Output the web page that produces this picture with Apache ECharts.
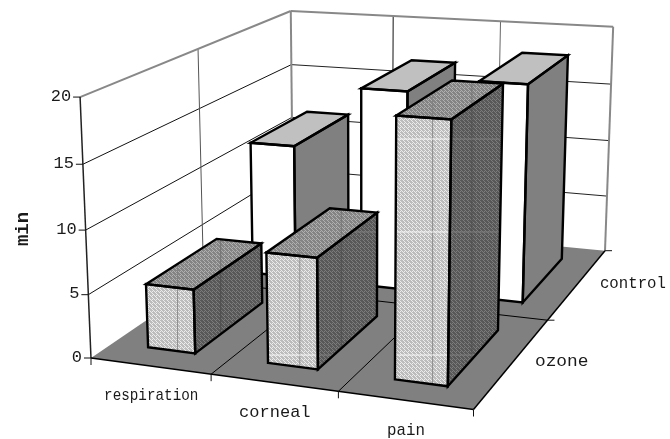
<!DOCTYPE html>
<html><head><meta charset="utf-8">
<style>html,body{margin:0;padding:0;background:#fff}#c{width:670px;height:439px}</style>
<script src="https://cdn.jsdelivr.net/npm/echarts@6/dist/echarts.min.js"></script>
</head><body><div id="c"></div>
<script>
// ---- data ----
var categories = ['respiration', 'corneal', 'pain'];
var depths = ['ozone', 'control'];
var yTicks = [0, 5, 10, 15, 20];
var ozoneValues = [5.05, 8.55, 19.45];
var controlValues = [11.5, 16.8, 18.0];
var axisTitle = 'min';

// ---- camera calibration (unit cube -> screen) ----
var FL = [91, 358], FR = [473.5, 409.5], BR = [605, 250.7], BL = [293, 220.5];
var TFL = [80, 97], TBL = [291, 9], TBR = [613, 29];
var barDepth = [0.09, 0.41], barWidthFrac = 0.4;

function homography(p0, p1, p2, p3) {
  var dx1 = p1[0] - p2[0], dx2 = p3[0] - p2[0], sx = p0[0] - p1[0] + p2[0] - p3[0];
  var dy1 = p1[1] - p2[1], dy2 = p3[1] - p2[1], sy = p0[1] - p1[1] + p2[1] - p3[1];
  var d = dx1 * dy2 - dx2 * dy1;
  var g = (sx * dy2 - dx2 * sy) / d, h = (dx1 * sy - sx * dy1) / d;
  return [[p1[0] - p0[0] + g * p1[0], p3[0] - p0[0] + h * p3[0], p0[0]],
          [p1[1] - p0[1] + g * p1[1], p3[1] - p0[1] + h * p3[1], p0[1]],
          [g, h, 1]];
}
var H = homography(FL, FR, BR, BL);
function solve3(M, y) {
  var A = M.map(function (r, i) { return r.concat([y[i]]); });
  for (var i = 0; i < 3; i++) {
    var piv = i;
    for (var k = i + 1; k < 3; k++) if (Math.abs(A[k][i]) > Math.abs(A[piv][i])) piv = k;
    var tmp = A[i]; A[i] = A[piv]; A[piv] = tmp;
    for (k = 0; k < 3; k++) if (k !== i) {
      var f = A[k][i] / A[i][i];
      for (var j = i; j < 4; j++) A[k][j] -= f * A[i][j];
    }
  }
  return [A[0][3] / A[0][0], A[1][3] / A[1][1], A[2][3] / A[2][2]];
}
// vertical column of the camera, least squares over the three visible top corners
var colP = (function () {
  var targets = [[0, 0, TFL], [0, 1, TBL], [1, 1, TBR]];
  var N = [[0,0,0],[0,0,0],[0,0,0]], R = [0,0,0];
  function add(row, rhs) {
    for (var i = 0; i < 3; i++) { R[i] += row[i] * rhs; for (var j = 0; j < 3; j++) N[i][j] += row[i] * row[j]; }
  }
  targets.forEach(function (s) {
    var b = [0,1,2].map(function (i) { return H[i][0] * s[0] + H[i][1] * s[1] + H[i][2]; });
    var T = s[2];
    add([1, 0, -T[0]], T[0] * b[2] - b[0]);
    add([0, 1, -T[1]], T[1] * b[2] - b[1]);
  });
  return solve3(N, R);
})();
function project(u, v, t) {
  var x = H[0][0] * u + H[0][1] * v + colP[0] * t + H[0][2];
  var y = H[1][0] * u + H[1][1] * v + colP[1] * t + H[1][2];
  var w = H[2][0] * u + H[2][1] * v + colP[2] * t + H[2][2];
  return [x / w, y / w];
}

// ---- hatched fills ----
function hatch(a, b) {
  var c = document.createElement('canvas'); c.width = c.height = 4;
  var g = c.getContext('2d');
  g.fillStyle = a; g.fillRect(0, 0, 4, 4);
  g.fillStyle = b;
  for (var i = 0; i < 4; i++) { g.fillRect(i, i, 2, 1); g.fillRect((i + 2) % 4, i, 1, 1); }
  return { image: c, repeat: 'repeat' };
}
var plainStyle = { front: '#ffffff', top: '#c0c0c0', side: '#808080' };
var hatchStyle = { front: hatch('#ececec', '#bcbcbc'), top: hatch('#b0b0b0', '#848484'), side: hatch('#7c7c7c', '#585858') };
var SEAM_Y = [139, 232, 355];

var FONT = '"Liberation Mono", monospace';
function line(a, b, color, width) {
  return { type: 'line', shape: { x1: a[0], y1: a[1], x2: b[0], y2: b[1] }, style: { stroke: color, lineWidth: width, lineCap: 'butt' }, silent: true };
}
function poly(pts, fill, stroke, width) {
  return { type: 'polygon', shape: { points: pts }, style: { fill: fill || 'none', stroke: stroke || 'none', lineWidth: width || 0, lineJoin: 'miter' }, silent: true };
}
function text(str, x, y, size, align, extra) {
  var e = { type: 'text', x: x, y: y, silent: true,
    style: { text: str, fill: '#1a1a1a', font: (extra && extra.bold ? 'bold ' : '') + size + 'px ' + FONT, align: align, verticalAlign: 'middle' } };
  if (extra && extra.rotation) e.rotation = extra.rotation;
  if (extra && extra.scaleX) e.scaleX = extra.scaleX;
  return e;
}
function clipV(pts, x) {
  var ys = [];
  for (var i = 0; i < pts.length; i++) {
    var a = pts[i], b = pts[(i + 1) % pts.length];
    if ((a[0] - x) * (b[0] - x) <= 0 && a[0] !== b[0]) ys.push(a[1] + (b[1] - a[1]) * (x - a[0]) / (b[0] - a[0]));
  }
  return ys.length > 1 ? [Math.min.apply(null, ys), Math.max.apply(null, ys)] : null;
}
function clipH(pts, y) {
  var xs = [];
  for (var i = 0; i < pts.length; i++) {
    var a = pts[i], b = pts[(i + 1) % pts.length];
    if ((a[1] - y) * (b[1] - y) <= 0 && a[1] !== b[1]) xs.push(a[0] + (b[0] - a[0]) * (y - a[1]) / (b[1] - a[1]));
  }
  return xs.length > 1 ? [Math.min.apply(null, xs), Math.max.apply(null, xs)] : null;
}

function normalise(api, params, catPos, value) {
  var cs = params.coordSys;
  var p = api.coord([catPos, value]);
  return [(p[0] - cs.x) / cs.width, (cs.y + cs.height - p[1]) / cs.height];
}

function renderFrame(params, api) {
  var kids = [];
  var tOf = function (tick) { return normalise(api, params, 0, tick)[1]; };
  var nC = categories.length, nD = depths.length;
  kids.push(poly([project(0,0,0), project(1,0,0), project(1,1,0), project(0,1,0)], '#808080'));
  yTicks.forEach(function (tk) {
    if (tk === 0) return;
    var t = tOf(tk);
    if (t < 1) {
      kids.push(line(project(0,0,t), project(0,1,t), '#111', 1));
      kids.push(line(project(0,1,t), project(1,1,t), '#222', 1));
    }
  });
  for (var d = 1; d < nD; d++) kids.push(line(project(0,d/nD,0), project(0,d/nD,1), '#555', 1));
  for (var c = 1; c < nC; c++) kids.push(line(project(c/nC,1,0), project(c/nC,1,1), c === 1 ? '#111' : '#666', 1));
  kids.push(line(project(0,0,1), project(0,1,1), '#888', 2));
  kids.push(line(project(0,1,1), project(1,1,1), '#888', 2));
  kids.push(line(project(1,1,1), project(1,1,0), '#888', 2));
  kids.push(line(project(0,1,0), project(0,1,1), '#888', 2));
  kids.push(line(project(0,0,0), project(0,0,1), '#222', 1.5));
  for (c = 1; c < nC; c++) kids.push(line(project(c/nC,0,0), project(c/nC,1,0), '#000', 1));
  for (d = 1; d < nD; d++) kids.push(line(project(0,d/nD,0), project(1,d/nD,0), '#000', 1));
  kids.push(line(project(0,0,0), project(1,0,0), '#000', 1.5));
  kids.push(line(project(1,0,0), project(1,1,0), '#000', 1.5));
  yTicks.forEach(function (tk) {
    var p = project(0,0,tOf(tk));
    kids.push(line([p[0]-7, p[1]], p, '#111', 1));
    kids.push(text(String(tk), p[0]-9, p[1]-1, 17, 'right'));
  });
  for (c = 0; c <= nC; c++) { var q = project(c/nC,0,0); kids.push(line(q, [q[0], q[1]+7], '#111', 1)); }
  for (d = 1; d <= nD; d++) { var r = project(1,d/nD,0); kids.push(line(r, [r[0]+7, r[1]], '#111', 1)); }
  categories.forEach(function (name, i) {
    var m = project((i+0.5)/nC,0,0);
    kids.push(text(name, m[0]+1, m[1]+30, 17, 'center', { scaleX: [0.84, 1.0, 0.93][i] }));
  });
  depths.forEach(function (name, i) {
    var m = project(1,(i+0.5)/nD,0);
    kids.push(text(name, m[0]+22, m[1], 17, 'left', { scaleX: [1.05, 0.925][i] }));
  });
  kids.push(text(axisTitle, 23, 229, 19, 'center', { bold: true, rotation: Math.PI/2 }));
  return { type: 'group', children: kids };
}

function renderBars(row) {
  var vMin = barDepth[0] / depths.length * 2 + row / depths.length;
  var vMax = barDepth[1] / depths.length * 2 + row / depths.length;
  var st = row === 0 ? hatchStyle : plainStyle;
  return function (params, api) {
    var n = normalise(api, params, api.value(0), api.value(1));
    var u = n[0], t = n[1];
    var half = barWidthFrac / categories.length / 2;
    var u0 = u - half, u1 = u + half;
    var a = project(u0,vMin,0), b = project(u1,vMin,0), c = project(u1,vMax,0);
    var a2 = project(u0,vMin,t), b2 = project(u1,vMin,t), c2 = project(u1,vMax,t), d2 = project(u0,vMax,t);
    var front = [a,b,b2,a2], side = [b,c,c2,b2], top = [a2,b2,c2,d2];
    var kids = [poly(front, st.front), poly(side, st.side), poly(top, st.top)];
    if (row === 0) {
      var xf = a2[0] + (b2[0]-a2[0])*0.66, xs = b2[0] + (c2[0]-b2[0])*0.4;
      [[xf,front,'#8c8c8c'],[xf,top,'#808080'],[xs,top,'#707070'],[xs,side,'#4c4c4c']].forEach(function (s) {
        var r = clipV(s[1], s[0]);
        if (r) kids.push(line([s[0],r[0]],[s[0],r[1]],s[2],1));
      });
      SEAM_Y.forEach(function (y) {
        var r = clipH(front, y);
        if (r) kids.push(line([r[0],y],[r[1],y],'#f4f4f4',1));
        r = clipH(side, y);
        if (r) kids.push(line([r[0],y],[r[1],y],'#7c7c7c',1));
      });
    }
    [front, side, top].forEach(function (f) { kids.push(poly(f, null, '#000', 2.4)); });
    return { type: 'group', children: kids };
  };
}

var chart = echarts.init(document.getElementById('c'), null, { renderer: 'canvas' });
function rows(values) { return values.map(function (v, i) { return [i, v]; }); }
function customSeries(render, data, z) {
  return { type: 'custom', coordinateSystem: 'cartesian2d', renderItem: render, data: data, z: z, clip: false, silent: true, animation: false, encode: { x: 0, y: 1 } };
}
chart.setOption({
  animation: false,
  backgroundColor: '#fff',
  tooltip: { show: false },
  grid: { left: 0, top: 0, width: 300, height: 200, show: false },
  xAxis: { type: 'category', data: categories, show: false },
  yAxis: { type: 'value', min: 0, max: 20, interval: 5, show: false },
  series: [
    customSeries(renderFrame, [[0, 0]], 1),
    customSeries(renderBars(1), rows(controlValues), 2),
    customSeries(renderBars(0), rows(ozoneValues), 3)
  ]
});
</script></body></html>
